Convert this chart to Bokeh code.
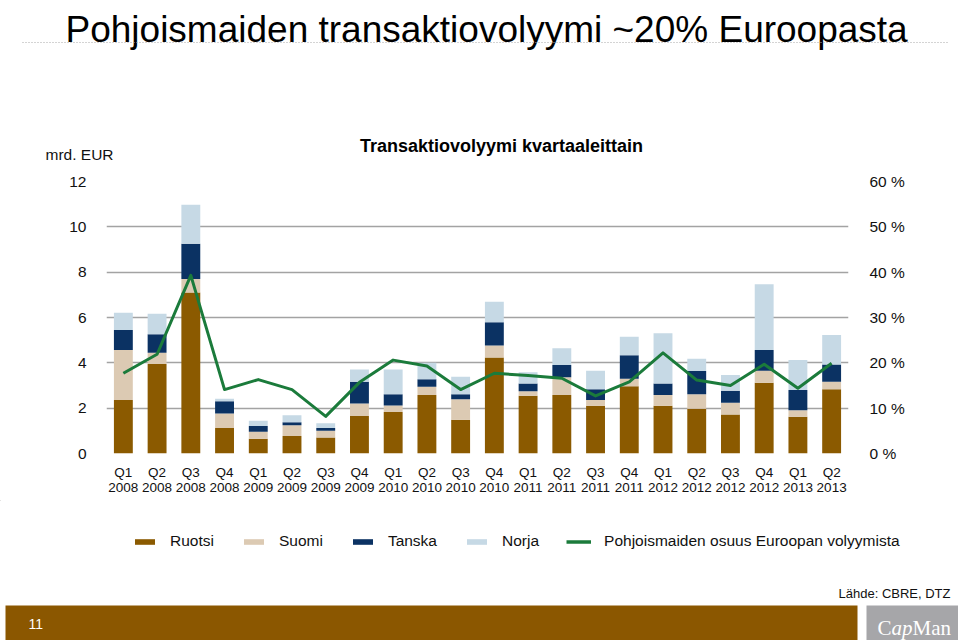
from bokeh.plotting import figure
from bokeh.models import (ColumnDataSource, FactorRange, Range1d, LinearAxis, FixedTicker,
                          PrintfTickFormatter, Legend, LegendItem)
from bokeh.layouts import column
from bokeh.embed import file_html
from bokeh.resources import INLINE
from bokeh.core.properties import value

# ---------------- data ----------------
quarters = ["Q1", "Q2", "Q3", "Q4", "Q1", "Q2", "Q3", "Q4", "Q1", "Q2", "Q3",
            "Q4", "Q1", "Q2", "Q3", "Q4", "Q1", "Q2", "Q3", "Q4", "Q1", "Q2"]
years = ["2008", "2008", "2008", "2008", "2009", "2009", "2009", "2009", "2010", "2010", "2010",
         "2010", "2011", "2011", "2011", "2011", "2012", "2012", "2012", "2012", "2013", "2013"]
ruotsi = [2.36, 3.95, 7.10, 1.13, 0.65, 0.77, 0.71, 1.65, 1.83, 2.58, 1.49,
          4.23, 2.55, 2.58, 2.11, 2.97, 2.11, 1.97, 1.72, 3.12, 1.62, 2.83]
suomi = [2.21, 0.50, 0.60, 0.64, 0.31, 0.48, 0.29, 0.56, 0.29, 0.37, 0.90,
         0.53, 0.20, 0.78, 0.25, 0.33, 0.47, 0.64, 0.52, 0.53, 0.29, 0.34]
tanska = [0.88, 0.81, 1.55, 0.54, 0.25, 0.13, 0.13, 0.96, 0.49, 0.33, 0.22,
          1.03, 0.34, 0.54, 0.48, 1.04, 0.51, 1.03, 0.53, 0.92, 0.89, 0.76]
norja = [0.76, 0.90, 1.72, 0.11, 0.23, 0.31, 0.20, 0.54, 1.10, 0.72, 0.78,
         0.91, 0.49, 0.74, 0.81, 0.81, 2.21, 0.54, 0.69, 2.90, 1.32, 1.30]
osuus = [17.7, 21.9, 39.3, 14.1, 16.3, 14.1, 8.2, 15.7, 20.6, 19.3, 14.1,
         17.7, 17.2, 16.6, 12.7, 15.8, 22.2, 16.2, 15.0, 19.7, 14.4, 19.9]

series_names = ["Ruotsi", "Suomi", "Tanska", "Norja"]
line_name = "Pohjoismaiden osuus Euroopan volyymista"
left_ticks = [0, 2, 4, 6, 8, 10, 12]
right_ticks = [0, 10, 20, 30, 40, 50, 60]

main_title = "Pohjoismaiden transaktiovolyymi ~20% Euroopasta"
chart_title = "Transaktiovolyymi kvartaaleittain"
unit_label = "mrd. EUR"
source_label = "Lähde: CBRE, DTZ"
page_no = "11"

# ---------------- styles ----------------
FONT_NAME = "Liberation Sans"
FONT = value(FONT_NAME)
SERIF = value("Liberation Serif")
colors = ["#8B5A00", "#DCCAB3", "#0B3263", "#C6D9E5"]
green = "#1B7B3B"
grid_col = "#A3A3A3"
W = 958


def blank(height, y0, y1):
    f = figure(width=W, height=height, x_range=Range1d(0, W), y_range=Range1d(y1, y0),
               x_axis_location=None, y_axis_location=None, toolbar_location=None,
               output_backend="svg", min_border=0, outline_line_color=None,
               frame_align=False)
    f.grid.visible = False
    return f


# ---------------- top header ----------------
top = blank(165, 0, 165)
top.text(x=[65], y=[29], text=[main_title], text_font=FONT, text_font_size="37px",
         text_baseline="alphabetic", text_align="left", text_color="#000000")
top.line(x=[22, 948], y=[42, 42], line_color="#A8A8A8", line_width=1.2, line_dash="1 2")
top.text(x=[45], y=[154], text=[unit_label], text_font=FONT, text_font_size="15.5px",
         text_baseline="middle", text_align="left", text_color="#111111")
top.text(x=[501], y=[145], text=[chart_title], text_font=FONT, text_font_size="18px",
         text_font_style="bold", text_baseline="middle", text_align="center", text_color="#000000")

# ---------------- main chart ----------------
factors = [f"{q}\n{y}" for q, y in zip(quarters, years)]
src = ColumnDataSource(dict(x=factors, Ruotsi=ruotsi, Suomi=suomi, Tanska=tanska,
                            Norja=norja, osuus=osuus))

p = figure(width=W, height=335, x_range=FactorRange(factors=factors, range_padding=0),
           y_range=Range1d(0, 12), toolbar_location=None, output_backend="svg",
           min_border_left=106, min_border_right=110, min_border_top=16, min_border_bottom=47,
           outline_line_color=None, frame_align=False)
p.extra_y_ranges = {"pct": Range1d(0, 60)}

bars = p.vbar_stack(series_names, x="x", width=0.56, fill_color=colors, line_color=None,
                    source=src)
ln = p.line(x="x", y="osuus", source=src, y_range_name="pct", line_color=green,
            line_width=3, line_join="round")

p.xgrid.visible = False
p.ygrid.ticker = FixedTicker(ticks=left_ticks)
p.ygrid.grid_line_color = grid_col
p.ygrid.grid_line_width = 1.5

yl = p.yaxis[0]
yl.ticker = FixedTicker(ticks=left_ticks)
yl.axis_line_color = None
yl.major_tick_line_color = None
yl.minor_tick_line_color = None
yl.major_label_standoff = 14
yl.major_label_text_font = FONT_NAME
yl.major_label_text_font_size = "15.5px"
yl.major_label_text_color = "#111111"

yr = LinearAxis(y_range_name="pct", ticker=FixedTicker(ticks=right_ticks),
                formatter=PrintfTickFormatter(format="%d %%"))
yr.axis_line_color = None
yr.major_tick_line_color = None
yr.minor_tick_line_color = None
yr.major_label_standoff = 15
yr.major_label_text_font = FONT_NAME
yr.major_label_text_font_size = "15.5px"
yr.major_label_text_color = "#111111"
p.add_layout(yr, "right")

xa = p.xaxis[0]
xa.axis_line_color = None
xa.major_tick_line_color = None
xa.minor_tick_line_color = None
xa.major_label_standoff = 5
xa.major_label_text_font = FONT_NAME
xa.major_label_text_font_size = "13.5px"
xa.major_label_text_line_height = 1.0
xa.major_label_text_color = "#111111"

# ---------------- legend + footer ----------------
bot = blank(140, 500, 640)
# far off-screen stand-ins that carry the series styles for the legend swatches
proxy = ColumnDataSource(dict(x=[-5000], top=[-5000], y=[-5000]))
swatches = [bot.vbar(x="x", top="top", bottom="top", width=0.001, fill_color=c,
                     line_color=None, source=proxy)
            for c in colors]
swatch_line = bot.line(x="x", y="y", line_color=green, line_width=3.5, source=proxy)

items = [LegendItem(label=n, renderers=[r]) for n, r in zip(series_names, swatches)]
items.append(LegendItem(label=line_name, renderers=[swatch_line]))
legend = Legend(items=items, location=(132, 89), orientation="horizontal",
                glyph_width=25, glyph_height=7, label_height=20, label_standoff=13,
                spacing=27, padding=0, margin=0, border_line_color=None,
                background_fill_alpha=0, label_text_font=FONT_NAME,
                label_text_font_size="15.5px", label_text_color="#111111")
bot.add_layout(legend)

bot.text(x=[950], y=[593], text=[source_label], text_font=FONT, text_font_size="13px",
         text_baseline="middle", text_align="right", text_color="#111111")
bot.quad(left=[5], right=[857], top=[605], bottom=[640], fill_color="#8B5700", line_color=None)
bot.quad(left=[866], right=[958], top=[605], bottom=[640], fill_color="#A6A6A9", line_color=None)
bot.text(x=[28], y=[623], text=[page_no], text_font=FONT, text_font_size="14px",
         text_baseline="middle", text_align="left", text_color="#FFFFFF")
bot.text(x=[877], y=[627], text=["C"], text_font=SERIF, text_font_size="21px",
         text_baseline="alphabetic", text_align="left", text_color="#FFFFFF")
bot.text(x=[891], y=[627], text=["ap"], text_font=SERIF, text_font_size="21px",
         text_font_style="italic", text_baseline="alphabetic", text_align="left",
         text_color="#FFFFFF")
bot.text(x=[912], y=[627], text=["Man"], text_font=SERIF, text_font_size="21px",
         text_baseline="alphabetic", text_align="left", text_color="#FFFFFF")

layout = column(top, p, bot, spacing=0)
open("out.html", "w").write(file_html(layout, INLINE))
